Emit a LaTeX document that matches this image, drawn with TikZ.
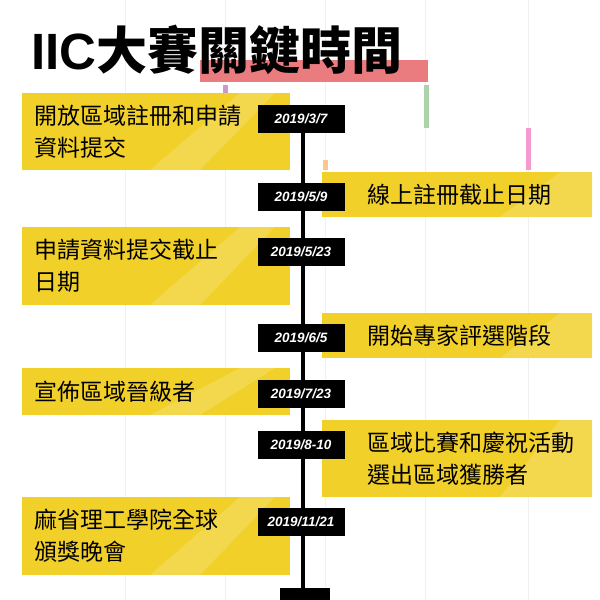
\documentclass[tikz,border=0pt]{standalone}
\usepackage{fontspec}
\setmainfont{Liberation Sans}
\newfontfamily\cjk{Noto Sans CJK TC}
\newfontfamily\cjkb{Noto Sans CJK TC Bold}
\definecolor{yel}{HTML}{F2D02A}
\definecolor{yell}{HTML}{F5DC64}
\definecolor{redb}{HTML}{EA7B7E}
\tikzset{
 evtext/.style={font=\cjk\fontsize{23}{32}\selectfont,align=left,anchor=west,inner sep=0pt},
 datebox/.style={fill=black,text=white,font=\bfseries\itshape\fontsize{13.5}{14}\selectfont,minimum width=87pt,minimum height=28pt,inner sep=0pt},
 grid/.style={draw=gray!12,line width=0.6pt}
}
\begin{document}
\begin{tikzpicture}[x=1pt,y=-1pt]
\useasboundingbox[fill=white] (0,0) rectangle (600,600);
\foreach \gx in {125,225,325,425,528} \draw[grid] (\gx,0) -- (\gx,600);
\fill[redb] (200,60) rectangle (428,82);
\node[anchor=west,inner sep=0pt] (title) at (31,50) {\fontsize{51}{51}\selectfont\bfseries IIC\cjkb 大賽關鍵時間};
\fill[violet!40] (223,85) rectangle (228,95);
\fill[green!30!gray!50] (424,85) rectangle (429,128);
\fill[magenta!40] (526,128) rectangle (531,170);
\fill[orange!45] (323,160) rectangle (328,170);
% boxes
\newcommand\evL[4]{%
 \fill[yel] (22,#1) rectangle (290,#2);
 \begin{scope}
 \clip (22,#1) rectangle (290,#2);
 \fill[yell,opacity=0.6] (150,#2) -- (240,#1) -- (275,#1) -- (200,#2) -- cycle;
 \end{scope}
 \node[evtext] (#4) at (34,{(#1+#2)/2}) {#3};}
\newcommand\evR[4]{%
 \fill[yel] (322,#1) rectangle (592,#2);
 \begin{scope}
 \clip (322,#1) rectangle (592,#2);
 \fill[yell,opacity=0.6] (500,#2) -- (560,#1) -- (592,#1) -- (592,#2) -- cycle;
 \end{scope}
 \node[evtext] (#4) at (367,{(#1+#2)/2}) {#3};}
\evL{93}{170}{開放區域註冊和申請\\資料提交}{e1}
\evR{172}{217}{線上註冊截止日期}{e2}
\evL{227}{305}{申請資料提交截止\\日期}{e3}
\evR{313}{358}{開始專家評選階段}{e4}
\evL{368}{415}{宣佈區域晉級者}{e5}
\evR{420}{497}{區域比賽和慶祝活動\\選出區域獲勝者}{e6}
\evL{497}{575}{麻省理工學院全球\\頒獎晚會}{e7}
% timeline
\coordinate (top) at (303,120);
\coordinate (bot) at (303,590);
\draw[line width=4pt] (top) -- (bot);
\node[fill=black,minimum width=50pt,minimum height=12pt,inner sep=0pt] (foot) at (305,594) {};
\node[datebox] (d1) at (301,119) {2019/3/7};
\node[datebox] (d2) at (301,197) {2019/5/9};
\node[datebox] (d3) at (301,252) {2019/5/23};
\node[datebox] (d4) at (301,338) {2019/6/5};
\node[datebox] (d5) at (301,394) {2019/7/23};
\node[datebox] (d6) at (301,445) {2019/8-10};
\node[datebox] (d7) at (301,522) {2019/11/21};
\end{tikzpicture}
\end{document}
